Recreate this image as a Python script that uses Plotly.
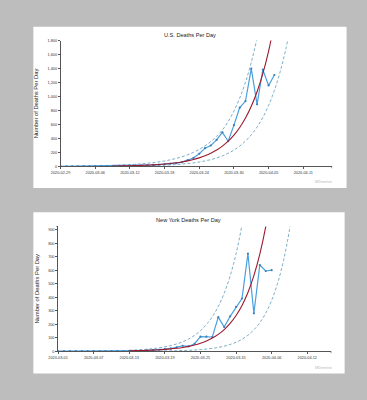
import pandas as pd
import plotly.graph_objects as go

# ---------------- data ----------------
us_start = "2020-02-29"
us_deaths = [0, 1, 0, 1, 2, 1, 2, 3, 3, 4, 5, 7, 8, 10, 12, 15, 20, 25, 30, 38,
             45, 60, 90, 120, 180, 260, 298, 378, 486, 359, 590, 840, 935, 1398,
             888, 1384, 1158, 1308]
us_fit_start = "2020-03-09"
us_fit = [4.6, 5.8, 7.2, 8.9, 11.1, 13.8, 17.1, 21.3, 26.5, 32.9, 40.9, 50.8, 63.2,
          78.5, 97.6, 121.3, 150.8, 187.5, 233.0, 289.6, 360, 447.5, 556, 691, 859,
          1068, 1328, 1650, 2051]
us_upper = [14, 17, 20, 25, 30, 36, 44, 53, 64, 77, 94, 113, 137, 166, 201, 243, 294,
            355, 430, 520, 642, 792, 977, 1206, 1488, 1837, 2266]
us_lower = [2.3, 2.9, 3.6, 4.4, 5.5, 6.9, 8.6, 10.7, 13.3, 16.6, 20.7, 25.8, 32.1, 40.0,
            49.9, 62.2, 77.5, 96.5, 120, 150, 187, 233, 290, 362, 451, 562, 700, 872,
            1087, 1354, 1687, 2102]
us_ticks = ["2020-02-29", "2020-03-06", "2020-03-12", "2020-03-18", "2020-03-24",
            "2020-03-30", "2020-04-05", "2020-04-11"]
us_yticks = [0, 200, 400, 600, 800, 1000, 1200, 1400, 1600, 1800]

ny_start = "2020-03-01"
ny_deaths = [0, 0, 0, 0, 0, 0, 0, 0, 0, 0, 0, 0, 2, 3, 5, 6, 8, 10, 15, 20, 28, 40,
             35, 55, 108, 108, 105, 252, 179, 258, 328, 390, 722, 280, 638, 594, 600]
ny_fit_start = "2020-03-13"
ny_fit = [2.9, 3.8, 4.8, 6.2, 8.0, 10.2, 13.1, 16.9, 21.7, 27.8, 35.7, 45.9, 58.9,
          75.6, 97.1, 124.7, 160.1, 205.6, 264, 339, 435, 559, 718, 922, 1184]
ny_upper = [6.7, 8.7, 11.3, 14.6, 19.0, 24.6, 31.9, 41.4, 53.7, 69.6, 90, 117, 152,
            197, 255, 331, 430, 557, 722, 937, 1215]
ny_lower = [0.35, 0.5, 0.6, 0.85, 1.1, 1.5, 2.0, 2.7, 3.6, 4.9, 6.5, 8.7, 11.6, 15.6,
            20.8, 27.8, 37.1, 49.6, 66, 88.5, 118, 158, 211, 282, 377, 503, 672, 898, 1200]
ny_ticks = ["2020-03-01", "2020-03-07", "2020-03-13", "2020-03-19", "2020-03-25",
            "2020-03-31", "2020-04-06", "2020-04-12"]
ny_yticks = [0, 100, 200, 300, 400, 500, 600, 700, 800, 900]

titles = ["U.S. Deaths Per Day", "New York Deaths Per Day"]
ytitle = "Number of Deaths Per Day"
watermark = "MDmetrix"

# ---------------- styling ----------------
W, H = 367, 400
FONT = "Liberation Sans, Arial, sans-serif"
BLUE = "#4aa0de"
MARK = "#3a7fb9"
RED = "#9c1a2e"
DASH = "#5c9abb"
AXIS = "#555555"


def dates(start, n):
    return pd.date_range(start, periods=n, freq="D")


def px(x):
    return x / W


def py(y):
    return 1 - y / H


fig = go.Figure()


def add_chart(xa, ya, start, deaths, fstart, fit, upper, lower):
    xs = dict(xaxis=xa, yaxis=ya, showlegend=False, hoverinfo="skip")
    dash_line = dict(color=DASH, width=0.8, dash="3px,2px", shape="spline")
    fig.add_trace(go.Scatter(x=dates(fstart, len(upper)), y=upper, mode="lines",
                             line=dash_line, **xs))
    fig.add_trace(go.Scatter(x=dates(fstart, len(lower)), y=lower, mode="lines",
                             line=dash_line, **xs))
    fig.add_trace(go.Scatter(x=dates(start, len(deaths)), y=deaths, mode="lines+markers",
                             line=dict(color=BLUE, width=1.2),
                             marker=dict(color=MARK, size=2.2), **xs))
    fig.add_trace(go.Scatter(x=dates(fstart, len(fit)), y=fit, mode="lines",
                             line=dict(color=RED, width=1.1, shape="spline"), **xs))


add_chart("x", "y", us_start, us_deaths, us_fit_start, us_fit, us_upper, us_lower)
add_chart("x2", "y2", ny_start, ny_deaths, ny_fit_start, ny_fit, ny_upper, ny_lower)

tickfont = dict(family=FONT, size=3.8, color="#333")
common_x = dict(type="date", showgrid=False, zeroline=False, showline=True,
                linecolor=AXIS, linewidth=0.6, ticks="outside", ticklen=2,
                tickcolor=AXIS, tickwidth=0.6, tickfont=tickfont, fixedrange=True)
common_y = dict(showgrid=False, zeroline=False, showline=True, linecolor=AXIS,
                linewidth=0.6, ticks="outside", ticklen=2, tickcolor=AXIS,
                tickwidth=0.6, tickfont=tickfont, tickformat=",", fixedrange=True,
                title=dict(text=ytitle, font=dict(family=FONT, size=5.8, color="#222"),
                           standoff=8))

fig.update_layout(
    width=W, height=H,
    margin=dict(l=0, r=0, t=0, b=0),
    paper_bgcolor="#bdbdbd",
    plot_bgcolor="white",
    xaxis=dict(common_x, domain=[px(52), px(330.7)], anchor="y",
               range=["2020-02-29", "2020-04-15 22:00"],
               tickvals=us_ticks, ticktext=us_ticks),
    yaxis=dict(common_y, domain=[py(166), py(39)], anchor="x",
               range=[0, 1800], tickvals=us_yticks),
    xaxis2=dict(common_x, domain=[px(49.4), px(330)], anchor="y2",
                range=["2020-03-01", "2020-04-16"],
                tickvals=ny_ticks, ticktext=ny_ticks),
    yaxis2=dict(common_y, domain=[py(352.7), py(226.7)], anchor="x2",
                range=[0, 924], tickvals=ny_yticks),
)

shapes = [
    dict(type="rect", xref="paper", yref="paper", x0=px(24), x1=px(346), y0=py(188), y1=py(25),
         fillcolor="white", line=dict(width=0), layer="below"),
    dict(type="rect", xref="paper", yref="paper", x0=px(24), x1=px(344), y0=py(375.3), y1=py(212.3),
         fillcolor="white", line=dict(width=0), layer="below"),
    # outer end ticks of the axes
    dict(type="line", xref="x domain", yref="y domain", x0=1, x1=1, y0=0, y1=-2 / 127,
         line=dict(color=AXIS, width=0.6)),
    dict(type="line", xref="x2 domain", yref="y2 domain", x0=1, x1=1, y0=0, y1=-2 / 126,
         line=dict(color=AXIS, width=0.6)),
    dict(type="line", xref="x2 domain", yref="y2 domain", x0=0, x1=-2 / 280.6, y0=1, y1=1,
         line=dict(color=AXIS, width=0.6)),
]
fig.update_layout(shapes=shapes)

annotations = [
    dict(text=titles[0], x=px(185), y=py(33), xref="paper", yref="paper", showarrow=False,
         font=dict(family=FONT, size=5.6, color="#222"), xanchor="center", yanchor="middle"),
    dict(text=titles[1], x=px(184), y=py(220), xref="paper", yref="paper", showarrow=False,
         font=dict(family=FONT, size=5.6, color="#222"), xanchor="center", yanchor="middle"),
    dict(text=watermark, x=px(322), y=py(181), xref="paper", yref="paper", showarrow=False,
         font=dict(family=FONT, size=4, color="#b8b8b8"), xanchor="center", yanchor="middle"),
    dict(text=watermark, x=px(322), y=py(369), xref="paper", yref="paper", showarrow=False,
         font=dict(family=FONT, size=4, color="#b8b8b8"), xanchor="center", yanchor="middle"),
]
fig.update_layout(annotations=annotations)

fig.write_html("out.html", config=dict(displayModeBar=False),
               post_script="document.body.style.margin='0';")
